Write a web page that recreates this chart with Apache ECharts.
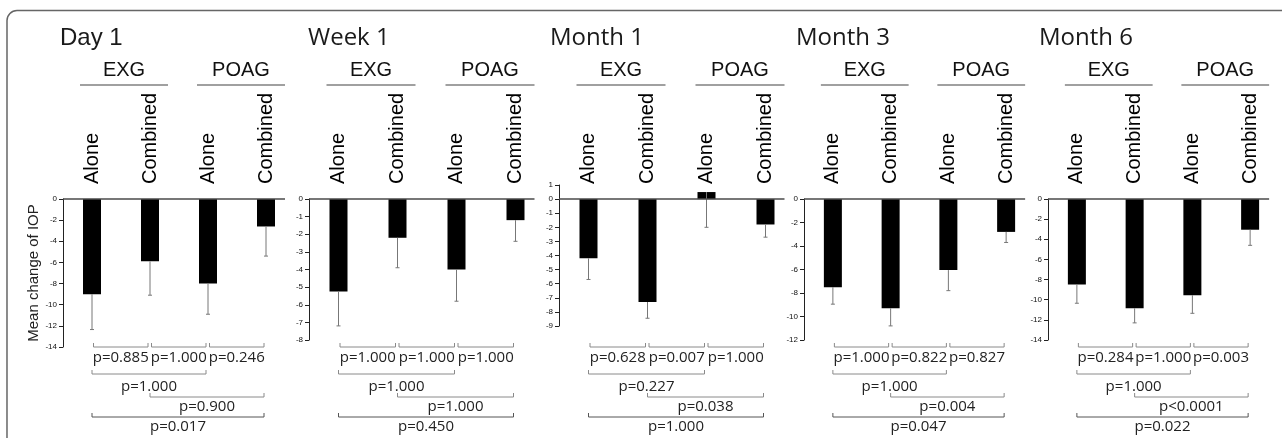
<!DOCTYPE html>
<html>
<head>
<meta charset="utf-8">
<title>Mean change of IOP</title>
<script src="https://cdn.jsdelivr.net/npm/echarts@6/dist/echarts.min.js"></script>
<style>
html,body{margin:0;padding:0;background:#fff;}
#main{width:1282px;height:438px;}
</style>
</head>
<body>
<div id="main"></div>
<script>
// time points and groups
var periods = ['Day 1', 'Week 1', 'Month 1', 'Month 3', 'Month 6'];
var groups = ['EXG', 'POAG'];
var treatments = ['Alone', 'Combined', 'Alone', 'Combined'];

// mean change of IOP: EXG Alone, EXG Combined, POAG Alone, POAG Combined
var meanDay1 = [-9.0, -5.9, -8.0, -2.6];
var meanWeek1 = [-5.25, -2.2, -4.0, -1.2];
var meanMonth1 = [-4.2, -7.3, 0.5, -1.8];
var meanMonth3 = [-7.5, -9.3, -6.05, -2.8];
var meanMonth6 = [-8.5, -10.85, -9.55, -3.05];

// standard deviation (drawn downward only)
var sdDay1 = [3.35, 3.2, 2.9, 2.8];
var sdWeek1 = [1.95, 1.7, 1.8, 1.2];
var sdMonth1 = [1.5, 1.15, 2.5, 0.9];
var sdMonth3 = [1.45, 1.5, 1.75, 0.9];
var sdMonth6 = [1.85, 1.45, 1.8, 1.55];

// p values, same order as comparisons
var pDay1 = ['p=0.885', 'p=1.000', 'p=0.246', 'p=1.000', 'p=0.900', 'p=0.017'];
var pWeek1 = ['p=1.000', 'p=1.000', 'p=1.000', 'p=1.000', 'p=1.000', 'p=0.450'];
var pMonth1 = ['p=0.628', 'p=0.007', 'p=1.000', 'p=0.227', 'p=0.038', 'p=1.000'];
var pMonth3 = ['p=1.000', 'p=0.822', 'p=0.827', 'p=1.000', 'p=0.004', 'p=0.047'];
var pMonth6 = ['p=0.284', 'p=1.000', 'p=0.003', 'p=1.000', 'p<0.0001', 'p=0.022'];

// compared bars [from, to, row]
var comparisons = [[0, 1, 0], [1, 2, 0], [2, 3, 0], [0, 2, 1], [1, 3, 2], [0, 3, 3]];

// y axis ticks
var yMins = [-14, -8, -9, -12, -14];
var yMaxs = [0, 0, 1, 0, 0];
var ySteps = [2, 1, 1, 2, 2];

var means = [meanDay1, meanWeek1, meanMonth1, meanMonth3, meanMonth6];
var sds = [sdDay1, sdWeek1, sdMonth1, sdMonth3, sdMonth6];
var pvals = [pDay1, pWeek1, pMonth1, pMonth3, pMonth6];

// layout (px)
var gridBoxes = [
	{left: 63, top: 199, width: 232, height: 148},
	{left: 309, top: 199, width: 236, height: 141},
	{left: 559, top: 185, width: 236, height: 141},
	{left: 804, top: 199, width: 231, height: 141},
	{left: 1048, top: 199, width: 231, height: 141}
];
var titleX = [60, 308, 550, 796, 1039];
var bracketY = [347, 374, 397, 417];
var labelY = [358, 387, 407, 427];
var labelGap = 15;
var sansFont = 'Liberation Sans, Arial, sans-serif';
var humanFont = 'Open Sans, Noto Sans, sans-serif';

var chart = echarts.init(document.getElementById('main'));

function renderError(params, api){
	var k = api.value(0);
	var m = api.value(1);
	var s = api.value(2);
	var p0 = api.coord([k, m]);
	var p1 = api.coord([k, m - s]);
	var st = {stroke: '#777', lineWidth: 1};
	return {type: 'group', children: [
		{type: 'line', shape: {x1: p0[0], y1: p0[1], x2: p1[0], y2: p1[1]}, style: st},
		{type: 'line', shape: {x1: p1[0] - 2, y1: p1[1], x2: p1[0] + 2, y2: p1[1]}, style: st}
	]};
}

function makeBracket(labels){
	return function(params, api){
		var row = api.value(2);
		var x1 = api.coord([api.value(0), 0])[0] + (row == 0 ? 1.5 : 0);
		var x2 = api.coord([api.value(1), 0])[0] - 2;
		var y = bracketY[row];
		var col = row == 3 ? '#555' : '#8a8a8a';
		return {type: 'group', children: [
			{type: 'polyline', shape: {points: [[x1, y - 4], [x1, y], [x2, y], [x2, y - 4]]},
				style: {stroke: col, lineWidth: 1, fill: null}},
			{type: 'text', x: (x1 + x2) / 2, y: labelY[row],
				style: {text: labels[params.dataIndex], fill: '#222', fontSize: 15, fontFamily: humanFont,
					align: 'center', verticalAlign: 'middle'}}
		]};
	};
}

var grids = [], xAxes = [], yAxes = [], series = [];
for (var i = 0; i < periods.length; i++) {
	grids.push(gridBoxes[i]);
	// labels sit just above the zero line, not the top of the grid
	var zeroOffset = gridBoxes[i].height * yMaxs[i] / (yMaxs[i] - yMins[i]);
	xAxes.push({
		type: 'category',
		gridIndex: i,
		position: 'top',
		data: treatments,
		axisLine: {show: false},
		axisTick: {show: false},
		axisLabel: {rotate: 90, margin: labelGap - zeroOffset, interval: 0, fontSize: 20, fontFamily: sansFont, color: '#000'}
	});
	var ya = {
		type: 'value',
		gridIndex: i,
		min: yMins[i],
		max: yMaxs[i],
		interval: ySteps[i],
		axisLine: {show: true, lineStyle: {color: '#222', width: 1}},
		axisTick: {show: true, length: 4, lineStyle: {color: '#222'}},
		axisLabel: {fontSize: 8, margin: 6, color: '#111', fontFamily: sansFont},
		splitLine: {show: false}
	};
	if (i == 0) {
		ya.name = 'Mean change of IOP';
		ya.nameLocation = 'middle';
		ya.nameGap = 20;
		ya.nameTextStyle = {fontSize: 15, fontFamily: sansFont, color: '#222'};
	}
	yAxes.push(ya);
	series.push({
		type: 'bar',
		xAxisIndex: i,
		yAxisIndex: i,
		data: means[i],
		barWidth: 18,
		silent: true,
		itemStyle: {color: '#000'}
	});
	var errData = [];
	for (var k = 0; k < means[i].length; k++) {
		errData.push([k, means[i][k], sds[i][k]]);
	}
	series.push({
		type: 'custom',
		xAxisIndex: i,
		yAxisIndex: i,
		data: errData,
		encode: {x: 0, y: 1},
		renderItem: renderError,
		silent: true,
		z: 3
	});
	var brData = [];
	for (var c = 0; c < comparisons.length; c++) {
		brData.push([comparisons[c][0], comparisons[c][1], comparisons[c][2], 0]);
	}
	series.push({
		type: 'custom',
		xAxisIndex: i,
		yAxisIndex: i,
		data: brData,
		encode: {x: [0, 1], y: 3},
		renderItem: makeBracket(pvals[i]),
		clip: false,
		silent: true
	});
}

chart.setOption({
	animation: false,
	grid: grids,
	xAxis: xAxes,
	yAxis: yAxes,
	series: series
});

// headers, zero lines and frame
function drawDecor(){
	var g = [];
	g.push({type: 'rect', shape: {x: 7, y: 10.5, width: 1300, height: 460, r: 10},
		style: {fill: 'none', stroke: '#666', lineWidth: 1.5}, silent: true});
	for (var i = 0; i < periods.length; i++) {
		var cx = [];
		for (var k = 0; k < treatments.length; k++) {
			cx.push(chart.convertToPixel({xAxisIndex: i}, k));
		}
		var zy = chart.convertToPixel({yAxisIndex: i}, 0);
		//零线
		g.push({type: 'line', shape: {x1: gridBoxes[i].left, y1: zy, x2: cx[3] + 19, y2: zy},
			style: {stroke: '#4a4a4a', lineWidth: 1.5}, silent: true, z: 10});
		//标题
		g.push({type: 'text', x: titleX[i], y: 38,
			style: {text: periods[i], fontSize: 24, fontFamily: i == 0 ? sansFont : humanFont,
				fill: '#1a1a1a', verticalAlign: 'middle'}, silent: true});
		var spans = [[cx[0] - 12, cx[1] + 18], [cx[2] - 11, cx[3] + 19]];
		for (var j = 0; j < groups.length; j++) {
			g.push({type: 'line', shape: {x1: spans[j][0], y1: 85, x2: spans[j][1], y2: 85},
				style: {stroke: '#808080', lineWidth: 1.3}, silent: true});
			g.push({type: 'text', x: (spans[j][0] + spans[j][1]) / 2, y: 70,
				style: {text: groups[j], fontSize: 20, fontFamily: sansFont, fill: '#111',
					align: 'center', verticalAlign: 'middle'}, silent: true});
		}
	}
	chart.setOption({graphic: g});
}
drawDecor();
</script>
</body>
</html>
